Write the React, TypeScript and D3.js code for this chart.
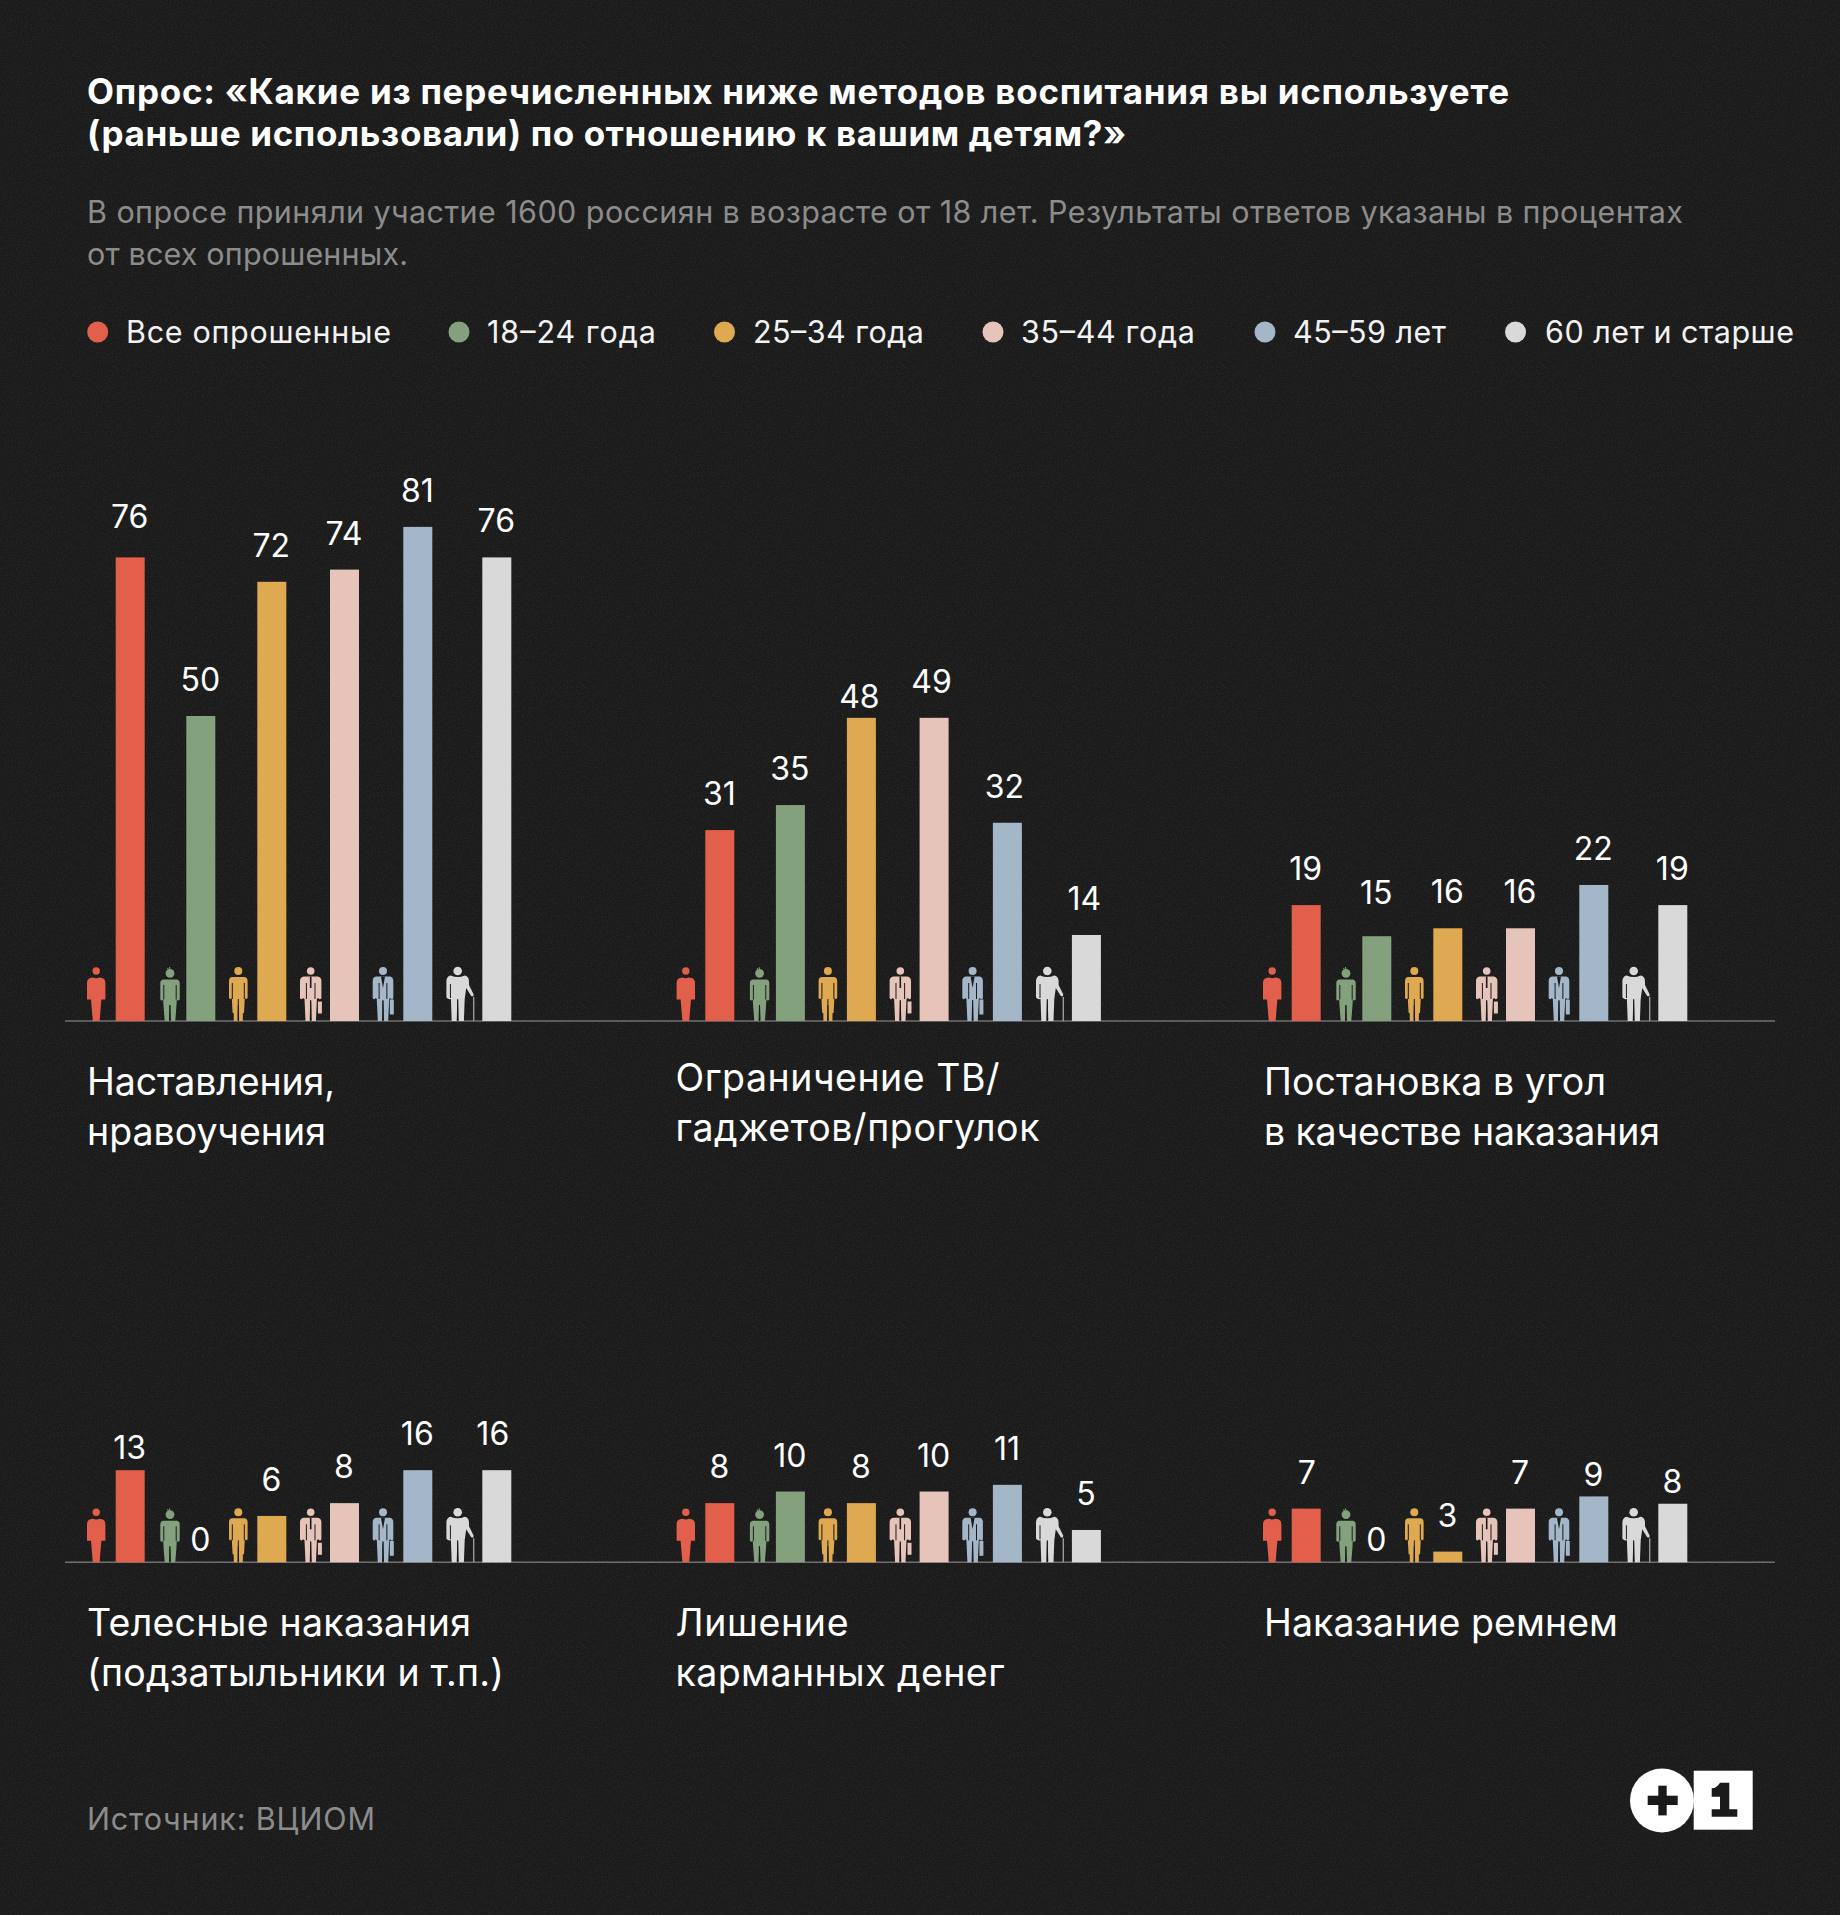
import * as d3 from "d3";
import React, { useEffect, useRef } from "react";

// survey answers, in percent, as printed on the chart
const ageGroups = ["Все опрошенные", "18–24 года", "25–34 года", "35–44 года", "45–59 лет", "60 лет и старше"];
const colors = ["#e15f4b", "#84a17d", "#dfa952", "#e6c4ba", "#a4b7c9", "#d9d9d9"];

const lectures = [76, 50, 72, 74, 81, 76];
const restrictions = [31, 35, 48, 49, 32, 14];
const corner = [19, 15, 16, 16, 22, 19];
const corporal = [13, 0, 6, 8, 16, 16];
const pocketMoney = [8, 10, 8, 10, 11, 5];
const belt = [7, 0, 3, 7, 9, 8];

// bar lengths as drawn, the picture does not follow its own labels exactly
const restrictionsDrawn = [31.3, 35.4, 49.7, 49.7, 32.5, 14.1];
const cornerDrawn = [19, 13.9, 15.2, 15.2, 22.3, 19];
const corporalDrawn = [15.1, 0, 7.6, 9.7, 15.1, 15.1];
const pocketMoneyDrawn = [9.7, 11.6, 9.7, 11.6, 12.7, 5.3];
const beltDrawn = [8.8, 0, 1.75, 8.8, 10.8, 9.6];

const panels = [
  { lines: ["Наставления,", "нравоучения"], widths: [248, 239], values: lectures, drawn: lectures, row: 0, col: 0, dy: 0 },
  { lines: ["Ограничение ТВ/", "гаджетов/прогулок"], widths: [324, 364], values: restrictions, drawn: restrictionsDrawn, row: 0, col: 1, dy: -4 },
  { lines: ["Постановка в угол", "в качестве наказания"], widths: [342, 396], values: corner, drawn: cornerDrawn, row: 0, col: 2, dy: 0 },
  { lines: ["Телесные наказания", "(подзатыльники и т.п.)"], widths: [384, 417], values: corporal, drawn: corporalDrawn, row: 1, col: 0, dy: 0 },
  { lines: ["Лишение", "карманных денег"], widths: [173, 329], values: pocketMoney, drawn: pocketMoneyDrawn, row: 1, col: 1, dy: 0 },
  { lines: ["Наказание ремнем"], widths: [354], values: belt, drawn: beltDrawn, row: 1, col: 2, dy: 0 },
];

// labels that do not sit at the usual place above their bar
const labelGapOverrides: Record<string, number> = {
  "0-0": 29, "1-2": 10, "2-1": 32, "3-0": 11, "3-1": 11, "5-1": 11, "5-4": 10, "5-5": 11,
};
const labelShift: Record<string, number> = {
  "1-2": -1.5, "1-3": -2, "1-4": -2.5, "1-5": -1.5, "3-5": -3.5, "5-0": 1,
};

const FONT = "Inter, 'Noto Sans', sans-serif";
const BG = "#1a1a1a";

function person(g: any, kind: number, color: string) {
  const head = [[3.7, -50], [4.4, -47.7], [4, -50], [3.8, -50], [4, -50], [4.3, -50]][kind];
  g.append("circle").attr("cy", head[1]).attr("r", head[0]).attr("fill", color);
  const gap = (d: string, w = 1) =>
    g.append("path").attr("d", d).attr("stroke", BG).attr("stroke-width", w).attr("fill", "none");

  if (kind === 0) {
    g.append("path").attr("fill", color)
      .attr("d", "M-3,-43.5Q0,-42 3,-43.5L6,-43Q9.2,-42 9.2,-38L9.2,-21.5L5.2,-21.5L3.4,0L-3.4,0L-5.2,-21.5L-9.2,-21.5L-9.2,-38Q-9.2,-42 -6,-43Z");
    return;
  }
  if (kind === 1) {
    g.append("path").attr("d", "M-2.5,-53L-1,-50M-0.5,-54L0,-51").attr("stroke", color).attr("stroke-width", 1);
    g.append("path").attr("fill", color)
      .attr("d", "M-7,-41.5L7,-41.5Q9.7,-41 9.7,-38L9.7,-21.5Q8.2,-19.5 6.8,-21.5L6.5,-16L5.3,0L1,0L0.4,-16L-0.4,-16L-1,0L-5.3,0L-6.5,-16L-6.8,-21.5Q-8.2,-19.5 -9.7,-21.5L-9.7,-38Q-9.7,-41 -7,-41.5Z");
    gap("M-6.2,-36V-21.5M6.2,-36V-21.5M-0.2,-16V0");
    return;
  }
  if (kind === 2) {
    g.append("path").attr("fill", color)
      .attr("d", "M-6.5,-44L6.5,-44Q9.3,-43.5 9.3,-40L9.3,-23Q8,-21 6.5,-23L5.7,-8L4.6,-8L4.5,0L0.8,0L0.5,-16L-0.5,-16L-0.8,0L-4.5,0L-4.6,-8L-5.7,-8L-6.5,-23Q-8,-21 -9.3,-23L-9.3,-40Q-9.3,-43.5 -6.5,-44Z");
    gap("M-6,-38V-22M6,-38V-22M0,-22V0");
    return;
  }
  if (kind === 3 || kind === 4) {
    const w = kind === 3 ? 10.7 : 10.3;
    g.append("path").attr("fill", color)
      .attr("d", `M-7,-44.5L7,-44.5Q${w},-44 ${w},-40L${w},-23Q${w - 1.4},-20.5 ${w - 3},-23L6.2,-22L5.2,0L1,0L0.5,-20L-0.5,-20L-1,0L-5.2,0L-6.2,-22L${3 - w},-23Q${1.4 - w},-20.5 ${-w},-23L${-w},-40Q${-w},-44 -7,-44.5Z`);
    gap(`M${6.4 - w},-38V-22M${w - 6.4},-38V-22M0,-21V0`);
    const bag = kind === 3 ? [7.2, -19.5, 4, 12] : [6.8, -21.5, 4, 15];
    g.append("rect").attr("x", bag[0]).attr("y", bag[1]).attr("width", bag[2]).attr("height", bag[3]).attr("fill", color);
    if (kind === 3) {
      g.append("path").attr("d", "M0,-44.5V-33").attr("stroke", BG).attr("stroke-width", 1.6);
    } else {
      g.append("path").attr("d", "M-2,-44.5L0,-33L2,-44.5Z").attr("fill", BG);
    }
    return;
  }
  // old man with a cane
  g.append("path").attr("fill", color)
    .attr("d", "M-7,-45.5Q0,-42.5 7,-45.5Q11,-45 11.3,-40L11.3,-36L16,-26.5L15.5,-24.5L13.5,-25L8.5,-33L7,-22L6.2,0L1,0L0.4,-21L-0.4,-21L-1,0L-6,0L-6.8,-22L-7.4,-22Q-9,-21 -11.3,-23.5L-11.3,-40Q-11,-45 -7,-45.5Z");
  gap("M-7.3,-37V-23M0,-22V0");
  g.append("path").attr("d", "M16,-24V0").attr("stroke", "#9a9a9a").attr("stroke-width", 1.4).attr("fill", "none");
}

export default function App() {
  const ref = useRef<SVGSVGElement>(null);

  useEffect(() => {
    const width = 1840;
    const height = 1915;
    const svg = d3.select(ref.current);
    svg.selectAll("*").remove();

    const defs = svg.append("defs");
    const grain = defs.append("filter").attr("id", "grain").attr("x", 0).attr("y", 0).attr("width", "100%").attr("height", "100%");
    grain.append("feTurbulence").attr("type", "fractalNoise").attr("baseFrequency", 0.8).attr("numOctaves", 2).attr("seed", 3);
    grain.append("feColorMatrix").attr("values", "0 0 0 0 1  0 0 0 0 1  0 0 0 0 1  0.35 0 0 0 -0.13");

    svg.append("rect").attr("width", width).attr("height", height).attr("fill", BG);
    svg.append("rect").attr("width", width).attr("height", height).attr("filter", "url(#grain)").attr("opacity", 0.35);

    const text = (x: number, y: number, s: string, size: number, fill: string, w?: number, weight = 400) => {
      const t = svg.append("text").attr("x", x).attr("y", y).attr("font-family", FONT)
        .attr("font-size", size).attr("font-weight", weight).attr("fill", fill).text(s);
      if (w) t.attr("textLength", w).attr("lengthAdjust", "spacing");
      return t;
    };

    text(87, 104, "Опрос: «Какие из перечисленных ниже методов воспитания вы используете", 35, "#fff", 1422, 700);
    text(87, 146, "(раньше использовали) по отношению к вашим детям?»", 35, "#fff", 1039, 700);
    text(87, 223, "В опросе приняли участие 1600 россиян в возрасте от 18 лет. Результаты ответов указаны в процентах", 30.5, "#8c8c8c", 1596);
    text(87, 265, "от всех опрошенных.", 30.5, "#8c8c8c", 321);

    const legendDot = [97.7, 459, 724.5, 993, 1265, 1515.5];
    const legendText = [126, 487, 753, 1021, 1293, 1545];
    const legendWidth = [265, 169, 171, 174, 153, 249];
    ageGroups.forEach((name, i) => {
      svg.append("circle").attr("cx", legendDot[i]).attr("cy", 332).attr("r", 10.5).attr("fill", colors[i]);
      text(legendText[i], 343, name, 30.5, "#f2f2f2", legendWidth[i]);
    });

    const baseline = d3.scaleOrdinal<number, number>().domain([0, 1]).range([1021, 1562.3]);
    const colX = d3.scaleOrdinal<number, number>().domain([0, 1, 2]).range([115.7, 705.3, 1291.7]);
    const barOffset = d3.scaleOrdinal<string, number>().domain(ageGroups).range([0, 70.6, 141.6, 214.3, 287.6, 366.6]);
    const personOffset = [-19.5, -16.3, -19, -19.3, -20.3, -24.6];
    const barWidth = 29;
    const y = d3.scaleLinear().domain([0, 100]).range([0, 610]);
    const textX = [87, 675.5, 1264];

    svg.selectAll("line.base").data([0, 1]).join("line").attr("class", "base")
      .attr("x1", 65).attr("x2", 1775)
      .attr("y1", (d) => baseline(d)).attr("y2", (d) => baseline(d))
      .attr("stroke", "#707070").attr("stroke-width", 1.5);

    panels.forEach((p, pi) => {
      const base = baseline(p.row);
      const left = colX(p.col) as number;
      const g = svg.append("g");
      g.selectAll("rect").data(ageGroups).join("rect")
        .attr("x", (d) => left + barOffset(d))
        .attr("y", (_, i) => base - y(p.drawn[i]))
        .attr("width", barWidth)
        .attr("height", (_, i) => y(p.drawn[i]))
        .attr("fill", (_, i) => colors[i]);

      g.selectAll("text").data(p.values).join("text")
        .attr("x", (_, i) => left + barOffset(ageGroups[i]) + barWidth / 2 - 0.5 + (labelShift[`${pi}-${i}`] ?? 0))
        .attr("y", (_, i) => base - y(p.drawn[i]) - (labelGapOverrides[`${pi}-${i}`] ?? 25))
        .attr("text-anchor", "middle")
        .attr("font-family", FONT).attr("font-size", 32).attr("fill", "#fff")
        .text((d) => d);

      ageGroups.forEach((name, i) => {
        const fig = g.append("g").attr("transform", `translate(${left + barOffset(name) + personOffset[i]},${base})`);
        person(fig, i, colors[i]);
      });

      p.lines.forEach((line, li) => {
        text(textX[p.col], base + 73.5 + p.dy + li * 50, line, 37.5, "#fff", p.widths[li]);
      });
    });

    text(87, 1830, "Источник: ВЦИОМ", 30.5, "#8c8c8c", 288);

    // +1 logo
    const logo = svg.append("g").attr("transform", "translate(1600,1740)");
    logo.append("rect").attr("x", 93.7).attr("y", 30.7).attr("width", 59).attr("height", 59).attr("fill", "#fff");
    logo.append("circle").attr("cx", 62).attr("cy", 60.5).attr("r", 32).attr("fill", "#fff");
    logo.append("rect").attr("x", 47.7).attr("y", 55.7).attr("width", 30).attr("height", 9.3).attr("fill", BG);
    logo.append("rect").attr("x", 58.3).attr("y", 45.7).attr("width", 8.4).attr("height", 29.7).attr("fill", BG);
    logo.append("path").attr("fill", BG).attr("d", "M120,42.7H129.3V69.3H137.3V76.7H111.7V69.3H120V56.7H111.7V48.3Q117,48 120,42.7Z");
  }, []);

  return <svg ref={ref} width={1840} height={1915} style={{ position: "absolute", left: 0, top: 0, display: "block" }} />;
}
